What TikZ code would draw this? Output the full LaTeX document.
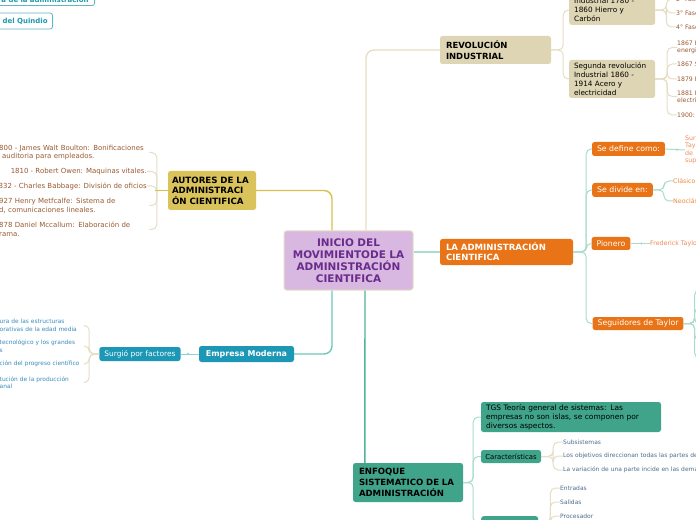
\documentclass[tikz,border=0pt]{standalone}
\usepackage{fontspec}
\setmainfont{DejaVu Sans}
\definecolor{beigebox}{HTML}{DDD5B3}
\definecolor{beigeln}{HTML}{E6DEC4}
\definecolor{yelbox}{HTML}{D9C35A}
\definecolor{yelln}{HTML}{D8C050}
\definecolor{purbox}{HTML}{D8B8E0}
\definecolor{purtxt}{HTML}{6A2C8C}
\definecolor{orbox}{HTML}{E97417}
\definecolor{ortxt}{HTML}{F08A55}
\definecolor{tealbox}{HTML}{1C97B5}
\definecolor{qteal}{HTML}{1E9AA8}
\definecolor{greenbox}{HTML}{40A48A}
\definecolor{greenln}{HTML}{4FB598}
\definecolor{mintln}{HTML}{A9DCCB}
\definecolor{cyanln}{HTML}{8FD3DC}
\definecolor{empln}{HTML}{6CC8B8}
\definecolor{browntxt}{HTML}{9A5A32}
\definecolor{bluetxt}{HTML}{3C8DBE}
\definecolor{slatetxt}{HTML}{4E6E8E}
\begin{document}
\begin{tikzpicture}[x=1bp,y=-1bp,every node/.style={inner sep=0pt},
  box/.style={rounded corners=2.5bp,inner xsep=5bp,inner ysep=2bp,align=left},
  sz/.style 2 args={minimum width=#1bp,minimum height=#2bp},
  obox/.style={box,fill=orbox,text=white,align=center,font=\fontsize{7.8}{9}\selectfont},
  qbox/.style={box,draw=qteal!70,fill=white,line width=0.8bp,text=qteal,align=right,font=\fontsize{7}{9}\selectfont\bfseries},
  leafb/.style={font=\fontsize{7}{8.7}\selectfont,text=browntxt,align=left},
  leafr/.style={font=\fontsize{6.2}{7.4}\selectfont,text=browntxt,align=left},
  leafc/.style={font=\fontsize{5.9}{7.5}\selectfont,text=bluetxt,align=left},
  leafo/.style={font=\fontsize{6.3}{7.5}\selectfont,text=ortxt,align=left},
  leafs/.style={font=\fontsize{6}{7.5}\selectfont,text=slatetxt,align=left},
  ln/.style={line width=1bp,rounded corners=5bp},
  mainln/.style={line width=1.4bp,rounded corners=8bp},
  dot/.style={circle,fill,inner sep=0.9bp}]
\path[use as bounding box,fill=white] (0,0) rectangle (696,520);
\clip (0,0) rectangle (696,520);

% top left
\node[qbox,anchor=south east,text width=110bp,inner xsep=6bp,inner ysep=3bp] (hist) at (95,6) {a de la administración};
\node[qbox,anchor=east,text width=55bp,minimum height=16bp] (quin) at (53,21) {del Quindio};

% center
\node[box,fill=purbox,draw=beigeln,line width=1bp,text width=119bp,sz={129}{59},align=center,text=purtxt,font=\fontsize{10.5}{12}\selectfont\bfseries] (ini) at (348.5,260.5) {INICIO DEL\\MOVIMIENTODE LA\\ADMINISTRACIÓN\\CIENTIFICA};

% revolucion industrial
\node[box,fill=beigebox,text width=99bp,inner xsep=6bp,sz={111}{28},font=\fontsize{8.5}{11}\selectfont\bfseries] (revo) at (495.5,50) {REVOLUCIÓN\\INDUSTRIAL};
\node[box,fill=beigebox,text width=76bp,anchor=south west,inner ysep=3bp,font=\fontsize{7.3}{9}\selectfont] (prim) at (569,25) {Industrial 1780 -\\1860 Hierro y\\Carbón};
\node[box,fill=beigebox,text width=76bp,sz={86}{38},font=\fontsize{7.3}{9}\selectfont] (seg) at (612,79) {Segunda revolución\\Industrial 1860 -\\1914 Acero y\\electricidad};
\node[leafr,anchor=west] (p2) at (676,-1) {2° Fase};
\node[leafr,anchor=west] (p3) at (676,13) {3° Fase};
\node[leafr,anchor=west] (p4) at (676,27) {4° Fase};
\node[leafr,anchor=west] (r1) at (677,47.5) {1867 E\\energi};
\node[leafr,anchor=west] (r2) at (677,64) {1867 S};
\node[leafr,anchor=west] (r3) at (677,79) {1879 E};
\node[leafr,anchor=west] (r4) at (677,96.5) {1881 D\\electri};
\node[leafr,anchor=west] (r5) at (677,115) {1900:};
\draw[mainln,beigeln] ([xshift=17.5bp]ini.north) |- (revo.west);
\draw[ln,beigeln] (revo.east) -- ++(12,0) |- (prim.west);
\draw[ln,beigeln] (revo.east) -- ++(12,0) |- (seg.west);
\foreach \c in {p2,p3,p4} \draw[ln,beigeln] (prim.east) -- ++(11,0) |- (\c.west);
\foreach \c in {r1,r2,r3,r4,r5} \draw[ln,beigeln] (seg.east) -- ++(12,0) |- (\c.west);

% autores
\node[box,fill=yelbox,text width=80bp,inner xsep=4bp,sz={88}{39},font=\fontsize{8.7}{10.5}\selectfont\bfseries] (aut) at (212,190.5) {AUTORES DE LA\\ADMINISTRACI\\ÓN CIENTIFICA};
\node[leafb,anchor=west,text width=150bp] (a1) at (-1,152.5) {800 - James Walt Boulton: Bonificaciones\\\hspace*{3bp}auditoria para empleados.};
\node[leafb,anchor=east] (a2) at (147,171.5) {1810 - Robert Owen: Maquinas vitales.};
\node[leafb,anchor=east] (a3) at (147,186) {832 - Charles Babbage: División de oficios};
\node[leafb,anchor=west,text width=150bp] (a4) at (-1,205.5) {927 Henry Metfcalfe: Sistema de\\d, comunicaciones lineales.};
\node[leafb,anchor=west,text width=150bp] (a5) at (-1,229.5) {878 Daniel Mccallum: Elaboración de\\rama.};
\foreach \c in {a1,a2,a3,a4,a5} \draw[ln,beigeln] ([xshift=-11bp]aut.west) |- (\c.east);
\draw[line width=1.2bp,yelln] (aut.west) -- ++(-13,0);
\draw[mainln,yelln] ([xshift=-16.5bp]ini.north) |- (aut.east);

% empresa moderna
\node[box,fill=tealbox,text=white,align=center,sz={95}{16},font=\fontsize{8}{10}\selectfont\bfseries] (emp) at (246.5,354) {Empresa Moderna};
\node[box,fill=tealbox,text=white,align=center,sz={78}{14},font=\fontsize{7.5}{9}\selectfont] (sur) at (140,354) {Surgió por factores};
\node[leafc,anchor=west,text width=84bp] (s1) at (-0.5,325.5) {ura de las estructuras\\orativas de la edad media};
\node[leafc,anchor=west,text width=84bp] (s2) at (-0.5,346) {tecnológico y los grandes\\s};
\node[leafc,anchor=west,text width=84bp] (s3) at (-0.5,364) {ción del progreso científico};
\node[leafc,anchor=west,text width=84bp] (s4) at (-0.5,382.5) {tución de la producción\\anal};
\draw[mainln,empln] ([xshift=-16.5bp]ini.south) |- (emp.east);
\draw[line width=1bp,cyanln] (emp.west) -- (sur.east) node[dot,pos=0.6] (d1) {};
\foreach \c in {s1,s2,s3,s4} \draw[ln,beigeln] (sur.west) -- ++(-10,0) |- (\c.east);

% administracion cientifica
\node[box,fill=orbox,text=white,text width=121bp,inner xsep=6bp,sz={133}{26},font=\fontsize{8.6}{10}\selectfont\bfseries] (adm) at (506.5,252) {LA ADMINISTRACIÓN\\CIENTIFICA};
\node[obox,sz={71}{14}] (def) at (628.5,149) {Se define como:};
\node[obox,sz={59}{14}] (div) at (622.5,190) {Se divide en:};
\node[obox,sz={36}{13}] (pio) at (611,243.5) {Pionero};
\node[obox,sz={90}{13}] (segt) at (638,323.5) {Seguidores de Taylor};
\node[leafo,anchor=west] (dtx) at (685,150) {Sur\\Tay\\de\\sup};
\node[leafo,anchor=west,text=orbox!85] (cla) at (673,181) {Clásico};
\node[leafo,anchor=west,text=orbox!85] (neo) at (673,201) {Neoclásico};
\node[leafo,anchor=west] (fre) at (650,243.5) {Frederick Taylor};
\coordinate (t1) at (700,290);
\coordinate (t2) at (700,308);
\coordinate (t3) at (700,323.5);
\coordinate (t4) at (700,340);
\coordinate (t5) at (700,358);
\draw[mainln,mintln] (ini.east |- adm.west) -- (adm.west);
\foreach \c in {def,div,pio,segt} \draw[ln,mintln] (adm.east) -- ++(13,0) |- (\c.west);
\draw[line width=1bp,mintln] (def.east) -- (dtx.west) node[dot,pos=0.6] (d2) {};
\foreach \c in {cla,neo} \draw[ln,mintln] (div.east) -- ++(11,0) |- (\c.west);
\draw[line width=1bp,mintln] (pio.east) -- (fre.west) node[dot,pos=0.55] (d3) {};
\foreach \c in {t1,t2,t3,t4,t5} \draw[ln,mintln] (segt.east) -- ++(11,0) |- (\c);

% enfoque sistematico
\node[box,fill=greenbox,text width=98bp,inner xsep=6bp,sz={110}{39},font=\fontsize{8.6}{10.7}\selectfont\bfseries] (enf) at (408,482.5) {ENFOQUE\\SISTEMATICO DE LA\\ADMINISTRACIÓN};
\node[box,fill=greenbox,text width=170bp,sz={180}{30},font=\fontsize{7.5}{9}\selectfont] (tgs) at (571,417) {TGS Teoría general de sistemas: Las\\empresas no son islas, se componen por\\diversos aspectos.};
\node[box,fill=greenbox,align=center,inner xsep=2bp,sz={60}{13},font=\fontsize{6.9}{9}\selectfont] (car) at (511,456.5) {Características};
\node[box,fill=greenbox,sz={57}{14},anchor=north west] (comp) at (481,516) {};
\node[leafs,anchor=west] (c1) at (563,442) {Subsistemas};
\node[leafs,anchor=west] (c2) at (563,456) {Los objetivos direccionan todas las partes del};
\node[leafs,anchor=west] (c3) at (563,470) {La variación de una parte incide en las demás};
\node[leafs,anchor=west] (e1) at (560,488) {Entradas};
\node[leafs,anchor=west] (e2) at (560,502) {Salidas};
\node[leafs,anchor=west] (e3) at (560,516) {Procesador};
\draw[mainln,greenln] ([xshift=16.5bp]ini.south) -- ([xshift=12bp]enf.north west);
\foreach \c in {tgs,car,comp} \draw[ln,mintln] (enf.east) -- ++(10,0) |- (\c.west);
\foreach \c in {c1,c2,c3} \draw[ln,beigeln] (car.east) -- ++(12,0) |- (\c.west);
\foreach \c in {e1,e2,e3} \draw[ln,beigeln] (comp.east) -- ++(12,0) |- (\c.west);
\end{tikzpicture}
\end{document}
